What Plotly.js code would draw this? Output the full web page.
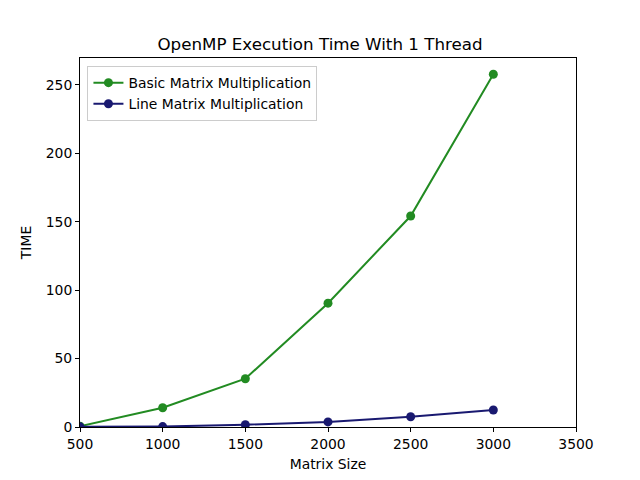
<!DOCTYPE html>
<html>
<head>
<meta charset="utf-8">
<script src="https://cdn.plot.ly/plotly-3.0.1.min.js"></script>
<style>html,body{margin:0;padding:0;background:#fff;}#chart{width:640px;height:480px;}</style>
</head>
<body>
<div id="chart"></div>
<script>
const matrixSizes = [500, 1000, 1500, 2000, 2500, 3000];
const basicTimes = [0.6, 14.1, 35.3, 90.5, 154.2, 257.8];
const lineTimes = [0.1, 0.3, 1.7, 3.7, 7.5, 12.4];
const xTicks = [500, 1000, 1500, 2000, 2500, 3000, 3500];
const yTicks = [0, 50, 100, 150, 200, 250];

const font = {family: 'DejaVu Sans, sans-serif', size: 13.9, color: '#000'};

const traces = [
  {x: matrixSizes, y: basicTimes, name: 'Basic Matrix Multiplication', mode: 'lines+markers',
   line: {color: '#228B22', width: 2}, marker: {color: '#228B22', size: 9}},
  {x: matrixSizes, y: lineTimes, name: 'Line Matrix Multiplication', mode: 'lines+markers',
   line: {color: '#191970', width: 2}, marker: {color: '#191970', size: 9}}
];

const axisCommon = {
  showline: true, linecolor: '#000', linewidth: 1, mirror: true,
  ticks: 'outside', ticklen: 4, tickwidth: 1, tickcolor: '#000',
  showgrid: false, zeroline: false, tickfont: font
};

const layout = {
  width: 640, height: 480,
  margin: {l: 80, r: 64, t: 58, b: 53},
  paper_bgcolor: '#fff', plot_bgcolor: '#fff',
  font: font,
  title: {text: 'OpenMP Execution Time With 1 Thread', font: {family: font.family, size: 16.7, color: '#000'},
          x: 0.5, xanchor: 'center', y: 1 - 44/480, yanchor: 'middle'},
  xaxis: Object.assign({}, axisCommon, {range: [500, 3500], tickvals: xTicks,
          title: {text: 'Matrix Size', font: font, standoff: 8}}),
  yaxis: Object.assign({}, axisCommon, {range: [0, 269.7], tickvals: yTicks,
          title: {text: 'TIME', font: font, standoff: 10}}),
  showlegend: true,
  legend: {x: 0.015, y: 0.978, xanchor: 'left', yanchor: 'top', bgcolor: 'rgba(255,255,255,0.8)',
           bordercolor: '#ccc', borderwidth: 1, font: font, tracegroupgap: 0}
};

Plotly.newPlot('chart', traces, layout, {displayModeBar: false, staticPlot: true});
</script>
</body>
</html>
